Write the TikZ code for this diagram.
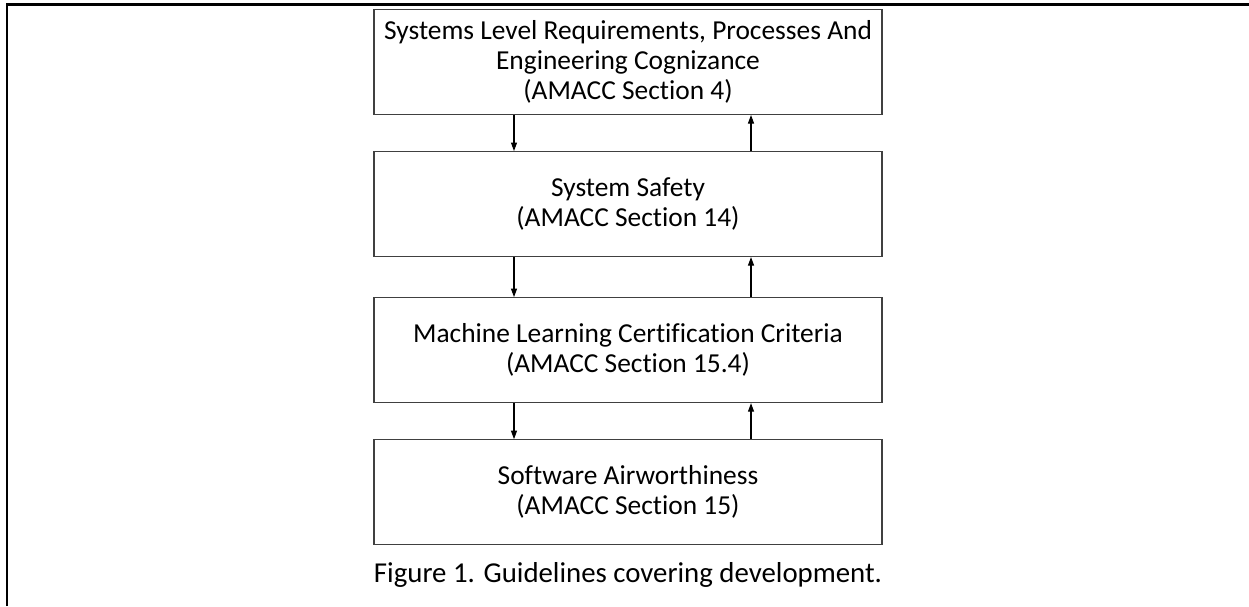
\documentclass[tikz,border=0pt]{standalone}
\usepackage{fontspec}
\setmainfont{Carlito}[Ligatures=NoCommon]
\usetikzlibrary{arrows.meta,positioning}

\tikzset{
  guidebox/.style={draw=black!75, line width=0.6pt, minimum width=10.16cm,
    minimum height=2.1cm, align=center, inner sep=0pt,
    font=\fontsize{15.6}{17.2}\selectfont},
  flow/.style={line width=0.6pt, -{Triangle[length=0.17cm, width=0.12cm]}}
}

\begin{document}
\begin{tikzpicture}

% ---------- dimensions ----------
\def\dn{-2.28cm}
\def\up{2.46cm}

% ---------- page and frame ----------
\useasboundingbox (0,0) rectangle (24.98,-12.12);
\draw[line width=1.6pt] (0.14,-12.12) -- (0.14,-0.09) -- (24.98,-0.09);

% ---------- boxes ----------
\node[guidebox] (sysreq) at (12.56,-1.24)
  {Systems Level Requirements, Processes And\\Engineering Cognizance\\(AMACC Section 4)};
\node[guidebox, below=0.72cm of sysreq] (safety)
  {System Safety\\(AMACC Section 14)};
\node[guidebox, below=0.8cm of safety] (mlcert)
  {Machine Learning Certification Criteria\\(AMACC Section 15.4)};
\node[guidebox, below=0.72cm of mlcert] (swair)
  {Software Airworthiness\\(AMACC Section 15)};

% ---------- connectors ----------
\foreach \a/\b in {sysreq/safety, safety/mlcert, mlcert/swair} {
  \draw[flow] ([xshift=\dn]\a.south) -- ([xshift=\dn]\b.north);
  \draw[flow] ([xshift=\up]\b.north) -- ([xshift=\up]\a.south);
}

% ---------- caption ----------
\node[font=\fontsize{16.4}{19}\selectfont, below=0.22cm of swair] (caption)
  {Figure 1. Guidelines covering development.};

\end{tikzpicture}
\end{document}
